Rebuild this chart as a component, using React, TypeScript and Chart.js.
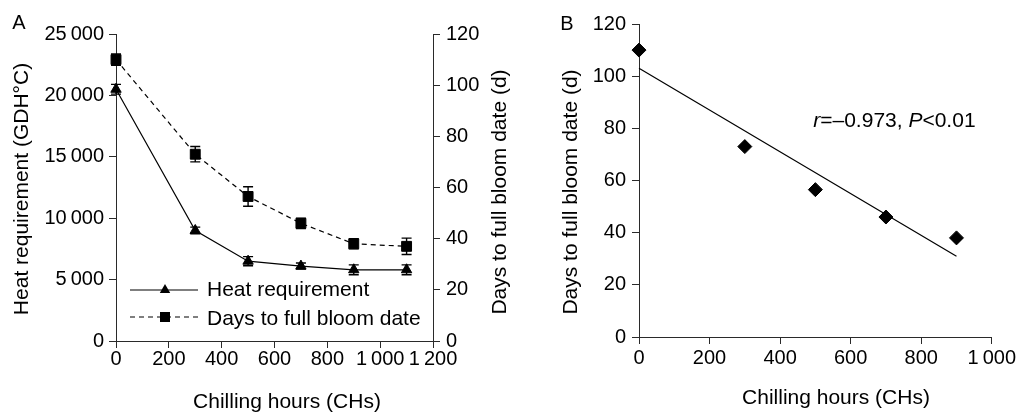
import React, { useEffect, useRef } from 'react';
import { Chart, registerables } from 'chart.js';

Chart.register(...registerables);

// ---------- data ----------
const chillA = [0, 300, 500, 700, 900, 1100];
const heatReq = [20500, 9000, 6500, 6100, 5800, 5800];
const heatErr = [400, 270, 370, 250, 400, 400];
const daysBloom = [110, 73, 56.5, 46, 38, 37];
const daysErr = [2.2, 3, 3.8, 2, 2, 3.2];

const chillB = [0, 300, 500, 700, 900];
const daysB = [110, 73, 56.5, 46, 38];
const fitX = [0, 900];
const fitY = [103, 31];

const seriesNames = ['Heat requirement', 'Days to full bloom date'];
const titleX = 'Chilling hours (CHs)';
const titleYA = 'Heat requirement (GDH°C)';
const titleY1A = 'Days to full bloom date (d)';
const titleYB = 'Days to full bloom date (d)';
const annotation = { x: 494, y: 80.5, r: '0.973', p: '0.01' };

// ---------- styling ----------
const FONT = '"Liberation Sans", Arial, Helvetica, sans-serif';
const AXIS = '#2a2a2a';
const INK = '#000';

const fmt = (v: number) =>
  v >= 1000 ? Math.floor(v / 1000) + '\u2009' + String(v % 1000).padStart(3, '0') : String(v);

const tickFont = { family: FONT, size: 20, lineHeight: 1 };

function axisBase(extra: any) {
  return {
    type: 'linear',
    grid: { drawOnChartArea: false, drawTicks: true, tickLength: 7, color: AXIS, lineWidth: 1 },
    border: { display: true, color: AXIS, width: 1 },
    ...extra,
  };
}

const errorBars = {
  id: 'errorBars',
  afterDatasetsDraw(chart: any) {
    const ctx = chart.ctx;
    chart.data.datasets.forEach((ds: any, i: number) => {
      const errs = ds.errors;
      if (!errs) return;
      const meta = chart.getDatasetMeta(i);
      const xs = chart.scales[meta.xAxisID];
      const ys = chart.scales[meta.yAxisID];
      ds.data.forEach((p: any, j: number) => {
        const x = xs.getPixelForValue(p.x);
        const yt = ys.getPixelForValue(p.y + errs[j]);
        const yb = ys.getPixelForValue(p.y - errs[j]);
        ctx.save();
        ctx.strokeStyle = INK;
        ctx.lineWidth = 1.4;
        ctx.beginPath();
        ctx.moveTo(x, yt);
        ctx.lineTo(x, yb);
        ctx.moveTo(x - 5, yt);
        ctx.lineTo(x + 5, yt);
        ctx.moveTo(x - 5, yb);
        ctx.lineTo(x + 5, yb);
        ctx.stroke();
        ctx.restore();
      });
    });
  },
};

function rotText(ctx: CanvasRenderingContext2D, text: string, x: number, y: number) {
  ctx.save();
  ctx.translate(x, y);
  ctx.rotate(-Math.PI / 2);
  ctx.textAlign = 'center';
  ctx.textBaseline = 'middle';
  ctx.fillText(text, 0, 0);
  ctx.restore();
}

const decorA = {
  id: 'decorA',
  afterDraw(chart: any) {
    const ctx: CanvasRenderingContext2D = chart.ctx;
    ctx.save();
    ctx.fillStyle = INK;
    ctx.font = `21px ${FONT}`;
    // axis titles
    rotText(ctx, titleYA, 22, 189);
    rotText(ctx, titleY1A, 500, 192);
    ctx.textAlign = 'center';
    ctx.textBaseline = 'middle';
    ctx.fillText(titleX, 287, 402);
    // panel letter
    ctx.font = `20px ${FONT}`;
    ctx.fillText('A', 19, 23);
    // legend
    ctx.font = `21px ${FONT}`;
    ctx.textAlign = 'left';
    ctx.textBaseline = 'alphabetic';
    ctx.fillText(seriesNames[0], 207, 296);
    ctx.fillText(seriesNames[1], 207, 325);
    ctx.strokeStyle = INK;
    ctx.lineWidth = 1.2;
    ctx.beginPath();
    ctx.moveTo(130, 290);
    ctx.lineTo(198, 290);
    ctx.stroke();
    ctx.setLineDash([5, 4]);
    ctx.beginPath();
    ctx.moveTo(130, 317);
    ctx.lineTo(198, 317);
    ctx.stroke();
    ctx.setLineDash([]);
    // triangle marker
    const r = 6;
    ctx.beginPath();
    ctx.moveTo(165, 290 - r);
    ctx.lineTo(165 + r * Math.sin((2 * Math.PI) / 3), 290 + r / 2);
    ctx.lineTo(165 - r * Math.sin((2 * Math.PI) / 3), 290 + r / 2);
    ctx.closePath();
    ctx.fill();
    // square marker
    ctx.fillRect(160, 312, 10, 10);
    ctx.restore();
  },
};

const decorB = {
  id: 'decorB',
  afterDraw(chart: any) {
    const ctx: CanvasRenderingContext2D = chart.ctx;
    const xs = chart.scales.x;
    const ys = chart.scales.y;
    ctx.save();
    ctx.fillStyle = INK;
    ctx.font = `21px ${FONT}`;
    rotText(ctx, titleYB, 31, 192);
    ctx.textAlign = 'center';
    ctx.textBaseline = 'middle';
    ctx.fillText(titleX, 296, 398);
    ctx.font = `20px ${FONT}`;
    ctx.fillText('B', 27, 24);
    // annotation r=–0.973, P<0.01
    let x = xs.getPixelForValue(annotation.x);
    const y = ys.getPixelForValue(annotation.y);
    ctx.textAlign = 'left';
    ctx.textBaseline = 'alphabetic';
    const parts: [string, boolean][] = [
      ['r', true],
      ['=\u2013' + annotation.r + ', ', false],
      ['P', true],
      ['<' + annotation.p, false],
    ];
    parts.forEach(([t, it]) => {
      ctx.font = `${it ? 'italic ' : ''}21px ${FONT}`;
      ctx.fillText(t, x, y);
      x += ctx.measureText(t).width;
    });
    ctx.restore();
  },
};

function PanelA() {
  const ref = useRef<HTMLCanvasElement>(null);
  useEffect(() => {
    if (!ref.current) return;
    const chart = new Chart(ref.current, {
      type: 'line',
      data: {
        datasets: [
          {
            label: seriesNames[0],
            data: chillA.map((x, i) => ({ x, y: heatReq[i] })),
            yAxisID: 'y',
            borderColor: INK,
            borderWidth: 1.2,
            pointStyle: 'triangle',
            pointRadius: 6,
            pointBackgroundColor: INK,
            pointBorderColor: INK,
            pointBorderWidth: 1,
            tension: 0,
            clip: false,
            errors: heatErr,
          } as any,
          {
            label: seriesNames[1],
            data: chillA.map((x, i) => ({ x, y: daysBloom[i] })),
            yAxisID: 'y1',
            borderColor: INK,
            borderWidth: 1.2,
            borderDash: [5, 4],
            pointStyle: 'rect',
            pointRadius: 7,
            pointBackgroundColor: INK,
            pointBorderColor: INK,
            pointBorderWidth: 1,
            tension: 0,
            clip: false,
            errors: daysErr,
          } as any,
        ],
      },
      options: {
        animation: false,
        responsive: false,
        layout: { padding: { top: 34, left: 0, right: 0, bottom: 0 } },
        plugins: { legend: { display: false }, tooltip: { enabled: false } },
        scales: {
          x: axisBase({
            position: 'bottom',
            min: 0,
            max: 1200,
            ticks: { stepSize: 200, color: INK, font: tickFont, padding: 1, maxRotation: 0, autoSkip: false, callback: (v: any) => fmt(Number(v)) },
            afterFit: (s: any) => { s.height = 71; },
          }),
          y: axisBase({
            position: 'left',
            min: 0,
            max: 25000,
            ticks: { stepSize: 5000, color: INK, font: tickFont, padding: 5, callback: (v: any) => fmt(Number(v)) },
            afterFit: (s: any) => { s.width = 116; },
          }),
          y1: axisBase({
            position: 'right',
            min: 0,
            max: 120,
            ticks: { stepSize: 20, color: INK, font: tickFont, padding: 6 },
            afterFit: (s: any) => { s.width = 87; },
          }),
        } as any,
      },
      plugins: [errorBars, decorA],
    });
    return () => chart.destroy();
  }, []);
  return <canvas ref={ref} width={520} height={412} style={{ position: 'absolute', left: 0, top: 0, width: 520, height: 412 }} />;
}

function PanelB() {
  const ref = useRef<HTMLCanvasElement>(null);
  useEffect(() => {
    if (!ref.current) return;
    const chart = new Chart(ref.current, {
      type: 'scatter',
      data: {
        datasets: [
          {
            label: 'Days to full bloom date',
            data: chillB.map((x, i) => ({ x, y: daysB[i] })),
            pointStyle: 'rectRot',
            pointRadius: 7,
            pointBackgroundColor: INK,
            pointBorderColor: INK,
            pointBorderWidth: 1,
            showLine: false,
            clip: false,
          } as any,
          {
            label: 'Linear fit',
            data: fitX.map((x, i) => ({ x, y: fitY[i] })),
            showLine: true,
            borderColor: INK,
            borderWidth: 1.2,
            pointRadius: 0,
            clip: false,
          } as any,
        ],
      },
      options: {
        animation: false,
        responsive: false,
        layout: { padding: { top: 24, left: 0, right: 25, bottom: 0 } },
        plugins: { legend: { display: false }, tooltip: { enabled: false } },
        scales: {
          x: axisBase({
            position: 'bottom',
            min: 0,
            max: 1000,
            ticks: { stepSize: 200, color: INK, font: tickFont, padding: 4, maxRotation: 0, autoSkip: false, callback: (v: any) => fmt(Number(v)) },
            afterFit: (s: any) => { s.height = 75; },
          }),
          y: axisBase({
            position: 'left',
            min: 0,
            max: 120,
            ticks: { stepSize: 20, color: INK, font: tickFont, padding: 6 },
            afterFit: (s: any) => { s.width = 99; },
          }),
        } as any,
      },
      plugins: [decorB],
    });
    return () => chart.destroy();
  }, []);
  return <canvas ref={ref} width={480} height={412} style={{ position: 'absolute', left: 540, top: 0, width: 480, height: 412 }} />;
}

export default function App() {
  return (
    <div style={{ position: 'fixed', left: 0, top: 0, width: 1020, height: 412, background: '#fff', overflow: 'hidden' }}>
      <PanelA />
      <PanelB />
    </div>
  );
}
